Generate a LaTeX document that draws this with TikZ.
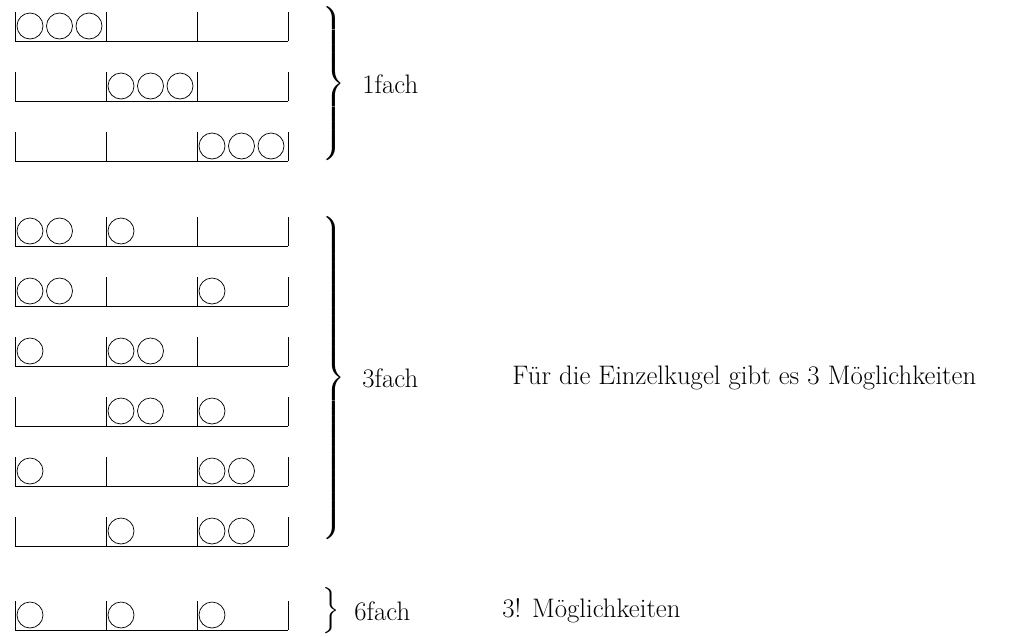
\documentclass[tikz,border=0pt]{standalone}
\usepackage{exscale}
\usepackage{tikz}

\newcommand{\bigbrace}[1]{$\left.\vcenter{\hrule height #1 width 0pt}\right\}$}

\begin{document}
\begin{tikzpicture}[x=0.0197cm, y=-0.0197cm,
  font=\fontsize{15}{18}\selectfont,
  label/.style={anchor=west, inner sep=0pt},
  brace/.style={inner sep=0pt}]
\useasboundingbox (0,0) rectangle (1026,636);
% rows: bottom line, balls in the three boxes
\foreach \yb/\na/\nb/\nc in {41/3/0/0, 101/0/3/0, 161/0/0/3,
    246/2/1/0, 306/2/0/1, 366/1/2/0, 426/0/2/1, 486/1/0/2, 546/0/1/2,
    630/1/1/1} {
  \draw (15,\yb) -- (288,\yb);
  \foreach \x in {15,106,197,288} {\draw (\x,\yb-29) -- (\x,\yb);}
  \foreach \bx/\n in {15/\na,106/\nb,197/\nc} {
    \foreach \j in {1,2,3} {
      \ifnum\j>\n\else
        \draw (\bx+15+29.5*\j-29.5,\yb-15) circle [radius=0.256cm];
      \fi
    }
  }
}
% braces and labels
\node[brace] (br1) at (333,84) {\bigbrace{3.08cm}};
\node[label] (l1) at (362,84) {1fach};
\node[brace] (br3) at (333,378) {\bigbrace{6.45cm}};
\node[label] (l3) at (362,378) {3fach};
\node[label] (t3) at (512,378) {Für die Einzelkugel gibt es 3 Möglichkeiten};
\node[brace] (br6) at (330,611) {\bigbrace{0.92cm}};
\node[label] (l6) at (354,611) {6fach};
\node[label] (t6) at (502,611) {3! Möglichkeiten};
\end{tikzpicture}
\end{document}
